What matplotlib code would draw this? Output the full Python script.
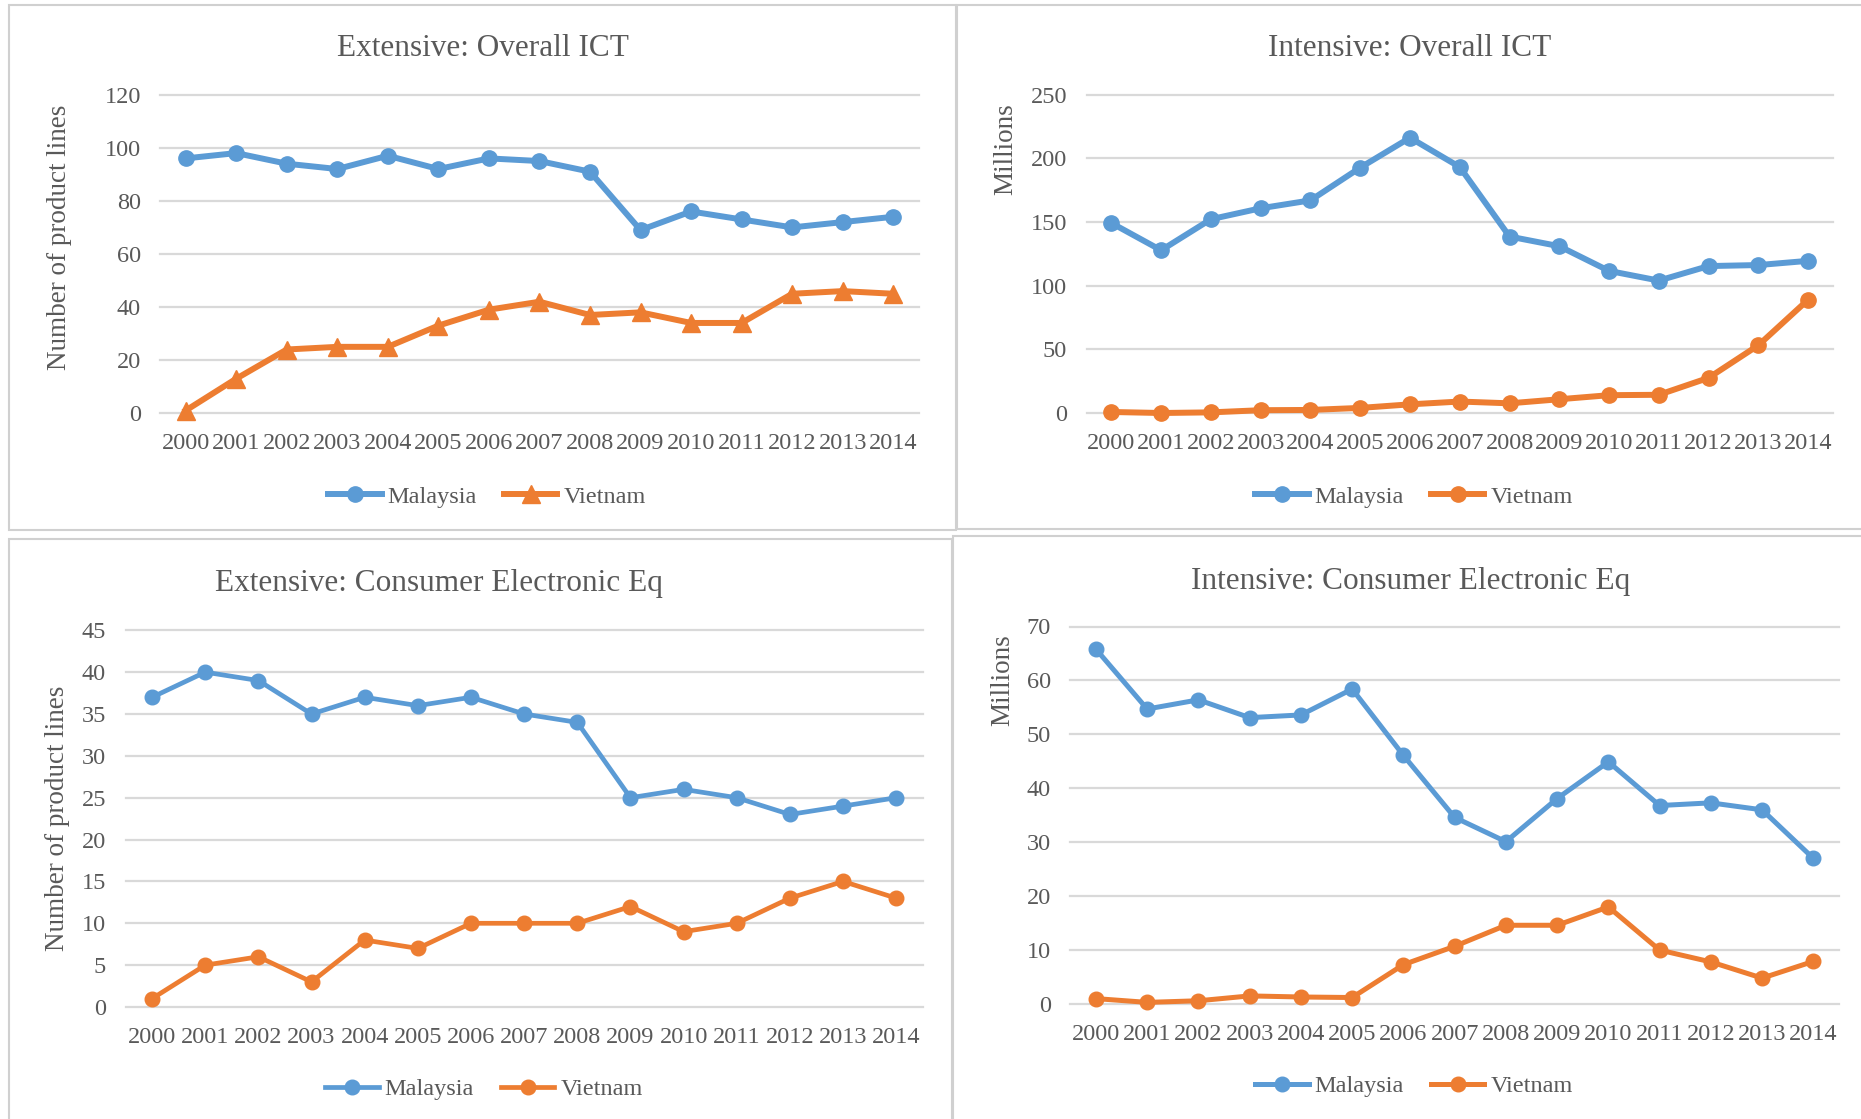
import matplotlib
matplotlib.use("Agg")
import matplotlib.pyplot as plt
from matplotlib.patches import Rectangle

plt.rcParams['font.family'] = ['Liberation Serif', 'DejaVu Serif']

years = [str(y) for y in range(2000, 2015)]

# Extensive: Overall ICT (number of product lines)
ext_ict_malaysia = [96, 98, 94, 92, 97, 92, 96, 95, 91, 69, 76, 73, 70, 72, 74]
ext_ict_vietnam = [1, 13, 24, 25, 25, 33, 39, 42, 37, 38, 34, 34, 45, 46, 45]

# Intensive: Overall ICT (millions)
int_ict_malaysia = [149.2, 127.8, 152.2, 160.8, 167.0, 192.7, 216.2, 193.2, 138.6, 131.0, 111.6, 104.0, 115.4, 116.2, 119.5]
int_ict_vietnam = [0.8, 0.0, 0.5, 2.2, 2.4, 4.0, 6.8, 9.0, 7.6, 10.8, 14.0, 14.3, 27.6, 53.2, 89.0]

# Extensive: Consumer Electronic Eq (number of product lines)
ext_ce_malaysia = [37, 40, 39, 35, 37, 36, 37, 35, 34, 25, 26, 25, 23, 24, 25]
ext_ce_vietnam = [1, 5, 6, 3, 8, 7, 10, 10, 10, 12, 9, 10, 13, 15, 13]

# Intensive: Consumer Electronic Eq (millions)
int_ce_malaysia = [65.8, 54.7, 56.4, 53.1, 53.6, 58.4, 46.1, 34.6, 30.1, 38.1, 44.9, 36.8, 37.3, 36.0, 27.0]
int_ce_vietnam = [1.0, 0.3, 0.6, 1.5, 1.3, 1.2, 7.3, 10.7, 14.6, 14.6, 18.0, 10.0, 7.8, 4.8, 7.9]

titles = ["Extensive: Overall ICT", "Intensive: Overall ICT",
          "Extensive: Consumer Electronic Eq", "Intensive: Consumer Electronic Eq"]
ylabels = ["Number of product lines", "Millions", "Number of product lines", "Millions"]
yticks_list = [[0, 20, 40, 60, 80, 100, 120], [0, 50, 100, 150, 200, 250],
               [0, 5, 10, 15, 20, 25, 30, 35, 40, 45], [0, 10, 20, 30, 40, 50, 60, 70]]
series_names = ["Malaysia", "Vietnam"]

W, H = 1861, 1119
BLUE = "#5B9BD5"
ORANGE = "#ED7D31"
GRID = "#D9D9D9"
TXT = "#595959"

fig = plt.figure(figsize=(W / 100, H / 100), dpi=100)
fig.patch.set_facecolor("white")

# panel borders (pixel coords: x0, y0, x1, y1)
panels = [(8.6, 5, 956, 530), (957, 5, 1870, 529), (8.6, 539, 952, 1130), (953, 536, 1870, 1130)]
for (x0, y0, x1, y1) in panels:
    fig.patches.append(Rectangle((x0 / W, 1 - y1 / H), (x1 - x0) / W, (y1 - y0) / H,
                                 transform=fig.transFigure, fill=False,
                                 edgecolor="#D0D0D0", lw=1.5))

# axes (pixel coords: left, top, right, bottom)
axes_px = [(160.4, 94.7, 918.5, 413.2), (1086.5, 94.7, 1833, 413.0),
           (125.5, 630.3, 922.8, 1007), (1070.3, 626.5, 1839, 1004)]
title_px = [(483, 49), (1410, 49), (439, 583), (1411, 581)]
ylabel_px = [(59, 237), (1006, 149), (58, 818), (1003, 680)]
legend_px = [(487, 497), (1414, 497), (484, 1089), (1414, 1086)]
line_w = [4.3, 4.3, 3.4, 3.6]
mark_s = [11, 11, 10.5, 10.5]

data = [(ext_ict_malaysia, ext_ict_vietnam), (int_ict_malaysia, int_ict_vietnam),
        (ext_ce_malaysia, ext_ce_vietnam), (int_ce_malaysia, int_ce_vietnam)]
vmarkers = ["^", "o", "o", "o"]

for i in range(4):
    l, t, r, b = axes_px[i]
    ax = fig.add_axes([l / W, 1 - b / H, (r - l) / W, (b - t) / H])
    yt = yticks_list[i]
    for v in yt:
        ax.axhline(v, color=GRID, lw=1.6, zorder=0, clip_on=False)
    x = list(range(len(years)))
    mal, vie = data[i]
    h1, = ax.plot(x, mal, color=BLUE, lw=line_w[i], marker="o", ms=mark_s[i], clip_on=False,
                  solid_joinstyle="round", label=series_names[0], zorder=3)
    h2, = ax.plot(x, vie, color=ORANGE, lw=line_w[i], marker=vmarkers[i],
                  ms=mark_s[i] + 2 if vmarkers[i] == "^" else mark_s[i], clip_on=False,
                  solid_joinstyle="round", label=series_names[1], zorder=3)
    ax.set_xlim(-0.5, len(years) - 0.5)
    ax.set_ylim(yt[0], yt[-1])
    ax.set_yticks(yt)
    ax.set_yticklabels([str(v) for v in yt])
    ax.set_xticks(x)
    ax.set_xticklabels(years)
    for s in ax.spines.values():
        s.set_visible(False)
    ax.tick_params(axis="both", length=0, labelsize=17.5, colors=TXT)
    ax.tick_params(axis="y", pad=14)
    ax.tick_params(axis="x", pad=14.5)
    ax.set_facecolor("none")

    tx, ty = title_px[i]
    fig.text(tx / W, 1 - ty / H, titles[i], ha="center", va="center",
             fontsize=22.5, color=TXT)
    lx, ly = ylabel_px[i]
    fig.text(lx / W, 1 - ly / H, ylabels[i], ha="center", va="center",
             rotation=90, fontsize=19.5, color=TXT)
    gx, gy = legend_px[i]
    leg = fig.legend(handles=[h1, h2], loc="center", bbox_to_anchor=(gx / W, 1 - gy / H),
                     ncol=2, frameon=False, fontsize=17.5, handlelength=2.2,
                     handletextpad=0.25, columnspacing=1.1, numpoints=1,
                     borderaxespad=0, borderpad=0)
    for txt in leg.get_texts():
        txt.set_color(TXT)

fig.savefig("out.png", dpi=100, facecolor="white")
